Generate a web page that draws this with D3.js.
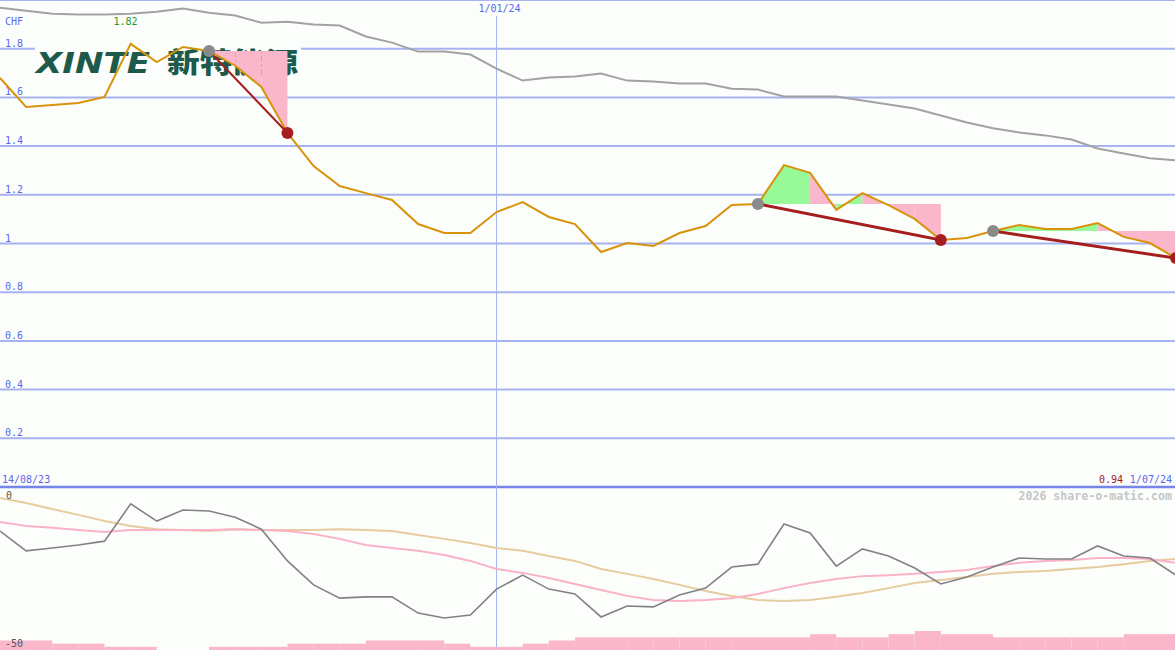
<!DOCTYPE html>
<html><head><meta charset="utf-8">
<script src="https://cdn.jsdelivr.net/npm/d3@7"></script>
<style>
html,body{margin:0;padding:0;background:#fcfefc;overflow:hidden}
svg{display:block}
text{font-family:"DejaVu Sans Mono",monospace;}
</style></head><body>
<svg id="c" width="1175" height="650"></svg>
<script>
// ---------- data ----------
const dates = ["2023-08-21","2023-08-28","2023-09-04","2023-09-11","2023-09-18","2023-09-25",
  "2023-10-02","2023-10-09","2023-10-16","2023-10-23","2023-10-30","2023-11-06","2023-11-13",
  "2023-11-20","2023-11-27","2023-12-04","2023-12-11","2023-12-18","2023-12-25","2024-01-01",
  "2024-01-08","2024-01-15","2024-01-22","2024-01-29","2024-02-05","2024-02-12","2024-02-19",
  "2024-02-26","2024-03-04","2024-03-11","2024-03-18","2024-03-25","2024-04-01","2024-04-08",
  "2024-04-15","2024-04-22","2024-04-29","2024-05-06","2024-05-13","2024-05-20","2024-05-27",
  "2024-06-03","2024-06-10","2024-06-17","2024-06-24","2024-07-01"];
const price = [1.68,1.561,1.569,1.577,1.602,1.82,1.745,1.807,1.791,1.73,1.643,1.454,1.318,1.236,
  1.207,1.179,1.080,1.043,1.043,1.129,1.170,1.109,1.080,0.965,1.002,0.990,1.043,1.072,1.158,1.162,
  1.322,1.290,1.138,1.207,1.158,1.101,1.014,1.023,1.051,1.076,1.060,1.060,1.084,1.027,1.002,0.94];
const longAvg = [1.968,1.956,1.944,1.940,1.940,1.944,1.952,1.965,1.948,1.936,1.907,1.911,1.899,1.895,
  1.850,1.825,1.788,1.788,1.776,1.718,1.669,1.682,1.686,1.698,1.669,1.665,1.657,1.657,1.636,1.632,
  1.604,1.604,1.604,1.587,1.571,1.554,1.526,1.497,1.473,1.456,1.444,1.427,1.390,1.370,1.350,1.342];
const osc = [-13.3,-19.4,-18.5,-17.6,-16.4,-4.9,-10.2,-6.8,-7.1,-9.0,-12.7,-22.5,-29.9,-34.0,-33.6,
  -33.6,-38.6,-40.1,-39.2,-31.2,-26.9,-31.2,-32.7,-39.8,-36.4,-36.7,-33.0,-30.9,-24.4,-23.5,-11.1,
  -13.9,-24.1,-18.8,-21.0,-24.7,-29.6,-27.5,-24.4,-21.6,-21.9,-21.9,-17.9,-21.0,-21.6,-26.9];
const oscAvgFast = [-10.5,-11.7,-12.3,-13.0,-13.6,-13.0,-13.0,-13.0,-13.0,-12.7,-13.0,-13.3,-14.2,-15.7,
  -17.6,-18.5,-19.4,-20.7,-22.5,-25.0,-26.2,-27.8,-29.6,-31.5,-33.3,-34.6,-34.9,-34.6,-34.0,-32.7,
  -30.9,-29.3,-28.1,-27.2,-26.9,-26.5,-25.9,-25.3,-24.1,-23.1,-22.5,-22.2,-21.6,-21.6,-21.9,-23.1];
const oscAvgSlow = [-3.1,-4.6,-6.5,-8.3,-10.2,-11.7,-12.7,-13.0,-13.3,-12.7,-13.0,-13.0,-13.0,-12.7,
  -13.0,-13.3,-14.5,-15.7,-17.0,-18.5,-19.4,-21.0,-22.5,-25.0,-26.5,-28.1,-29.9,-31.8,-33.3,-34.6,
  -34.9,-34.6,-33.6,-32.4,-30.9,-29.3,-28.4,-27.5,-26.5,-25.9,-25.6,-25.0,-24.4,-23.5,-22.5,-21.9];
const volume = [3,3,2,2,1,1,0,0,1,1,1,2,2,2,3,3,3,2,1,1,2,3,4,4,4,4,4,4,4,4,4,5,4,4,5,6,5,5,4,4,4,4,4,5,5];
const priceGrid = [0.2,0.4,0.6,0.8,1,1.2,1.4,1.6,1.8,2.0];
const priceTicks = ["0.2","0.4","0.6","0.8","1","1.2","1.4","1.6","1.8"];
const oscTicks = [0,-50];
const trendSegments = [[8,11],[29,36],[38,45]];
const markerDate = "2024-01-01", markerLabel = "1/01/24";
const startLabel = "14/08/23", endLabel = "1/07/24", lastLabel = "0.94", maxLabel = "1.82", currency = "CHF";
const credit = "2026 share-o-matic.com";
const logoLatin = "XINTE", logoCJK = "新特能源";

// ---------- scales ----------
const W = 1175, H = 650;
const parse = d3.timeParse("%Y-%m-%d");
const dd = dates.map(parse);
const x = d3.scaleTime().domain([dd[0], dd[dd.length-1]]).range([0, 1176]);
const y = d3.scaleLinear().domain([0, 2]).range([487, 0]);
const yo = d3.scaleLinear().domain([-50, 0]).range([650, 488]);
const yv = d3.scaleLinear().domain([0, 6]).range([0, 19]);

const svg = d3.select("#c");
svg.append("rect").attr("width", W).attr("height", H).attr("fill", "#fcfefc");

const BLUE = "#5868ee", GRID = "#a6b3f0";

// gridlines
svg.append("g").selectAll("line").data(priceGrid).join("line")
  .attr("x1", 0).attr("x2", W).attr("y1", d => y(d)).attr("y2", d => y(d))
  .attr("stroke", GRID).attr("stroke-width", 2);
svg.append("line").attr("x1", 0).attr("x2", W).attr("y1", y(0)).attr("y2", y(0))
  .attr("stroke", "#7585ea").attr("stroke-width", 2.4);

// vertical date marker
svg.append("line").attr("x1", x(parse(markerDate))).attr("x2", x(parse(markerDate)))
  .attr("y1", 16).attr("y2", H).attr("stroke", GRID).attr("stroke-width", 1);

// logo
const logo = svg.append("g");
logo.append("rect").attr("x", 35).attr("y", 45).attr("width", 266).attr("height", 34).attr("fill", "#fcfefc");
logo.append("text").text(logoLatin).attr("x", 36).attr("y", 73)
  .attr("textLength", 114).attr("lengthAdjust", "spacingAndGlyphs")
  .style("font-family", "'DejaVu Sans', sans-serif").style("font-weight", "bold")
  .style("font-style", "italic").style("font-size", "27.5px").attr("fill", "#1e5a4b");
logo.append("text").text(logoCJK).attr("x", 167).attr("y", 73)
  .attr("textLength", 131).attr("lengthAdjust", "spacingAndGlyphs")
  .style("font-family", "'Noto Sans CJK SC', sans-serif").style("font-weight", "900")
  .style("font-size", "28px").attr("fill", "#1e5a4b");

// y labels
svg.append("g").selectAll("text").data(priceTicks).join("text")
  .attr("x", 5).attr("y", d => y(+d) - 2).text(d => d)
  .attr("fill", BLUE).style("font-size", "10px");
svg.append("text").attr("x", 5).attr("y", 25).text(currency).attr("fill", BLUE).style("font-size", "10px");

// max label
const iMax = d3.maxIndex(price);
svg.append("text").attr("x", x(dd[iMax]) + 7).attr("y", 25).attr("text-anchor", "end")
  .text(maxLabel).attr("fill", "#1f9a1f").style("font-size", "10px");

// marker label
svg.append("text").attr("x", x(parse(markerDate)) + 3).attr("y", 12).attr("text-anchor", "middle")
  .text(markerLabel).attr("fill", BLUE).style("font-size", "10px");

// trend fills
const fills = svg.append("g");
trendSegments.forEach(([s, e]) => {
  const base = price[s];
  for (let k = s; k < e; k++) {
    const pts = [k, k + 1];
    const up = price[k + 1] >= base;
    fills.append("path").datum(pts)
      .attr("d", d3.area().x(i => x(dd[i])).y0(y(base)).y1(i => y(price[i])))
      .attr("fill", up ? "#97f997" : "#fab6ca");
  }
});

// long average (gray)
svg.append("path").datum(longAvg)
  .attr("d", d3.line().x((d, i) => x(dd[i])).y(d => y(d)))
  .attr("fill", "none").attr("stroke", "#a2a2a2").attr("stroke-width", 2);

// price line
svg.append("path").datum(price)
  .attr("d", d3.line().x((d, i) => x(dd[i])).y(d => y(d)))
  .attr("fill", "none").attr("stroke", "#d8930a").attr("stroke-width", 2);

// trend lines & dots
const tg = svg.append("g");
trendSegments.forEach(([s, e]) => {
  tg.append("path").datum([s, e])
    .attr("d", d3.area().x(i => x(dd[i])).y0(i => y(price[i]) - 1.5).y1(i => y(price[i]) + 1.5))
    .attr("fill", "#a51d1d");
});
trendSegments.forEach(([s, e]) => {
  tg.append("circle").attr("cx", x(dd[s])).attr("cy", y(price[s])).attr("r", 6).attr("fill", "#8a8a8a");
  tg.append("circle").attr("cx", x(dd[e])).attr("cy", y(price[e])).attr("r", 6).attr("fill", "#a51d1d");
});

// bottom texts over divider
svg.append("text").attr("x", 2).attr("y", 483).text(startLabel).attr("fill", BLUE).style("font-size", "10px");
svg.append("text").attr("x", 1172).attr("y", 483).attr("text-anchor", "end").text(endLabel)
  .attr("fill", BLUE).style("font-size", "10px");
svg.append("text").attr("x", 1123).attr("y", 483).attr("text-anchor", "end").text(lastLabel)
  .attr("fill", "#a51818").style("font-size", "10px");
svg.append("text").attr("x", 1172).attr("y", 500).attr("text-anchor", "end").text(credit)
  .attr("fill", "#c6c6c6").style("font-size", "11.6px").style("font-weight", "bold");

// volume bars
svg.append("g").selectAll("rect").data(volume).join("rect")
  .attr("x", (d, k) => x(dd[k])).attr("width", (d, k) => x(dd[k + 1]) - x(dd[k]))
  .attr("y", d => H - yv(d)).attr("height", d => yv(d)).attr("fill", "#fab6ca");

// oscillator lines
const lo = d3.line().x((d, i) => x(dd[i])).y(d => yo(d));
svg.append("path").datum(oscAvgSlow).attr("d", lo).attr("fill", "none").attr("stroke", "#e6cc9e").attr("stroke-width", 2);
svg.append("path").datum(oscAvgFast).attr("d", lo).attr("fill", "none").attr("stroke", "#f9b2c8").attr("stroke-width", 2);
svg.append("path").datum(osc).attr("d", lo).attr("fill", "none").attr("stroke", "#828282").attr("stroke-width", 1.6);

// osc labels
svg.append("g").selectAll("text").data(oscTicks).join("text")
  .attr("x", d => d === 0 ? 6 : 5).attr("y", d => d === 0 ? 499 : 647).text(d => d)
  .attr("fill", "#555").style("font-size", "10px");
</script></body></html>
